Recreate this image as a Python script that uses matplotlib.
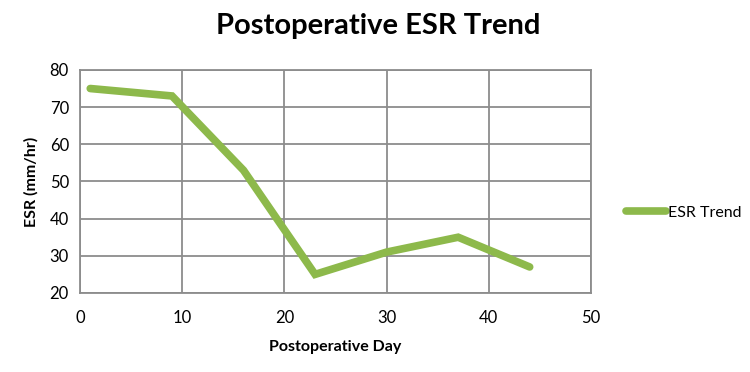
import matplotlib.pyplot as plt

plt.rcParams['font.family'] = ['Lato', 'DejaVu Sans']

days = [1, 9, 16, 23, 30, 37, 44]
esr = [75, 73, 53, 25, 31, 35, 27]

fig = plt.figure(figsize=(7.5, 3.72), dpi=100)
ax = fig.add_axes([0.1067, 0.2124, 0.6813, 0.5996])

ax.plot(days, esr, color='#8DB94B', linewidth=5.5, solid_capstyle='round',
        solid_joinstyle='miter', label='ESR Trend', zorder=3)

ax.set_xlim(0, 50)
ax.set_ylim(20, 80)
ax.set_xticks(range(0, 51, 10))
ax.set_yticks(range(20, 81, 10))
ax.grid(True, color='#8c8c8c', linewidth=1.3)
for s in ax.spines.values():
    s.set_color('#8c8c8c')
    s.set_linewidth(1.3)
ax.tick_params(length=0, labelsize=12, colors='black')
ax.tick_params(axis='x', pad=12)
ax.tick_params(axis='y', pad=8)

ax.set_xlabel('Postoperative Day', fontsize=11.5, fontweight='bold', labelpad=10)
ax.set_ylabel('ESR (mm/hr)', fontsize=11.5, fontweight='bold', labelpad=8)
fig.suptitle('Postoperative ESR Trend', fontsize=21, fontweight='bold',
             x=0.504, y=0.965)

ax.legend(loc='center left', bbox_to_anchor=(1.04, 0.36), frameon=False,
          fontsize=11.5, handlelength=2.5, handletextpad=0.15)

plt.savefig('out.png')
